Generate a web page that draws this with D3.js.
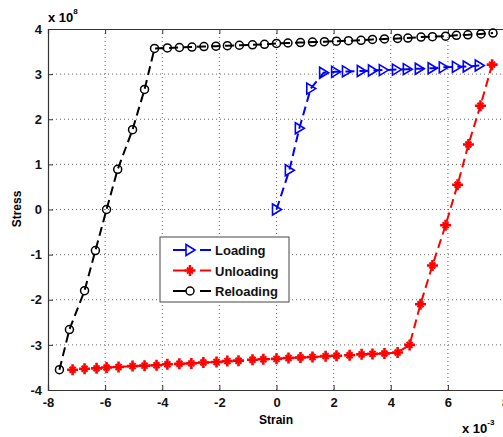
<!DOCTYPE html>
<html><head><meta charset="utf-8">
<script src="https://cdn.jsdelivr.net/npm/d3@7"></script>
<style>body{margin:0;background:#fff}svg{display:block}</style>
</head><body>
<svg id="c" width="503" height="437"></svg>
<script>
const xTicks = [-8,-6,-4,-2,0,2,4,6,8];
const yTicks = [-4,-3,-2,-1,0,1,2,3,4];

const loadX = [0, 0.45, 0.8, 1.2, 1.65, 2.07, 2.45, 2.97, 3.36, 3.74, 4.2, 4.58, 5.0, 5.45, 5.84, 6.3, 6.68, 7.1];
const loadY = [0, 0.87, 1.8, 2.68, 3.03, 3.05, 3.06, 3.07, 3.08, 3.09, 3.10, 3.11, 3.12, 3.13, 3.15, 3.16, 3.17, 3.19];

const unloadX = [7.55, 7.14, 6.72, 6.34, 5.92, 5.46, 5.04, 4.66, 4.24, 3.78, 3.36, 2.98, 2.56, 2.1, 1.72, 1.26, 0.84, 0.42, 0, -0.46, -0.84, -1.33, -1.72, -2.1, -2.56, -2.98, -3.4, -3.82, -4.2, -4.62, -5.04, -5.53, -5.95, -6.3, -6.72, -7.14];
const unloadY = [3.21, 2.3, 1.44, 0.55, -0.35, -1.24, -2.1, -3.0, -3.17, -3.19, -3.2, -3.21, -3.23, -3.24, -3.25, -3.27, -3.28, -3.29, -3.31, -3.32, -3.33, -3.35, -3.36, -3.38, -3.39, -3.41, -3.42, -3.43, -3.45, -3.46, -3.47, -3.49, -3.5, -3.52, -3.53, -3.55];

const reloadX = [-7.6, -7.25, -6.72, -6.34, -5.95, -5.56, -5.04, -4.62, -4.27, -3.82, -3.4, -2.96, -2.54, -2.12, -1.72, -1.3, -0.84, -0.42, 0, 0.4, 0.84, 1.26, 1.68, 2.1, 2.52, 2.96, 3.36, 3.78, 4.24, 4.6, 5.06, 5.46, 5.92, 6.3, 6.7, 7.16, 7.58];
const reloadY = [-3.55, -2.66, -1.8, -0.91, 0, 0.89, 1.77, 2.66, 3.57, 3.58, 3.59, 3.6, 3.61, 3.62, 3.63, 3.64, 3.65, 3.66, 3.68, 3.69, 3.70, 3.71, 3.72, 3.73, 3.74, 3.75, 3.77, 3.78, 3.79, 3.8, 3.82, 3.83, 3.84, 3.86, 3.87, 3.89, 3.91];

const seriesNames = ["Loading", "Unloading", "Reloading"];

const svg = d3.select("#c");
const L = 48, R = 505, T = 29, B = 390;
const x = d3.scaleLinear().domain([-8, 8]).range([L, R]);
const y = d3.scaleLinear().domain([-4, 4]).range([B, T]);
const font = "'Liberation Sans', Arial, sans-serif";

// grid
const grid = svg.append("g").attr("stroke", "#666").attr("stroke-width", 1).attr("stroke-dasharray", "1,3");
xTicks.slice(1, -1).forEach(t => grid.append("line").attr("x1", x(t)).attr("x2", x(t)).attr("y1", T).attr("y2", B));
yTicks.slice(1, -1).forEach(t => grid.append("line").attr("y1", y(t)).attr("y2", y(t)).attr("x1", L).attr("x2", R));

// axes
const ax = svg.append("g").attr("transform", `translate(0,${B})`)
  .call(d3.axisBottom(x).tickValues(xTicks).tickSize(-5).tickPadding(8).tickFormat(d3.format("d")));
const ay = svg.append("g").attr("transform", `translate(${L},0)`)
  .call(d3.axisLeft(y).tickValues(yTicks).tickSize(-5).tickPadding(6).tickFormat(d3.format("d")));
const axT = svg.append("g").attr("transform", `translate(0,${T})`)
  .call(d3.axisTop(x).tickValues(xTicks).tickSize(-5).tickFormat(""));
[ax, ay, axT].forEach(g => {
  g.selectAll("path").attr("stroke", "#333").attr("stroke-width", 1.2);
  g.selectAll("line").attr("stroke", "#333");
  g.selectAll("text").attr("font-family", font).attr("font-weight", "bold").attr("font-size", 13).attr("fill", "#111");
});
ax.selectAll("text").text(d => d < 0 ? "-" + Math.abs(d) : d);
ay.selectAll("text").text(d => d < 0 ? "-" + Math.abs(d) : d);

// axis labels
svg.append("text").attr("x", 276).attr("y", 424).attr("text-anchor", "middle")
  .attr("font-family", font).attr("font-weight", "bold").attr("font-size", 12).text("Strain");
svg.append("text").attr("transform", "translate(21,209) rotate(-90)").attr("text-anchor", "middle")
  .attr("font-family", font).attr("font-weight", "bold").attr("font-size", 12).text("Stress");
// exponent labels
const e1 = svg.append("text").attr("x", 48).attr("y", 22).attr("font-family", font).attr("font-weight", "bold").attr("font-size", 13);
e1.append("tspan").text("x 10");
e1.append("tspan").attr("font-size", 8).attr("dy", -8).text("8");
const e2 = svg.append("text").attr("x", 462).attr("y", 433).attr("font-family", font).attr("font-weight", "bold").attr("font-size", 13);
e2.append("tspan").text("x 10");
e2.append("tspan").attr("font-size", 8).attr("dy", -8).text("-3");

const line = d3.line().x(d => x(d[0])).y(d => y(d[1]));
const zip = (a, b) => a.map((v, i) => [v, b[i]]);

const triPath = "M-4,-5.5L5,0L-4,5.5Z";
function drawMarker(g, kind, color) {
  if (kind === 0) {
    g.append("path").attr("d", triPath).attr("fill", "none").attr("stroke", color).attr("stroke-width", 1.6);
  } else if (kind === 1) {
    g.append("path").attr("d", "M-5.5,0H5.5M0,-5.5V5.5").attr("stroke", color).attr("stroke-width", 2.6);
    g.append("path").attr("d", "M-3,-3L3,3M-3,3L3,-3").attr("stroke", color).attr("stroke-width", 2);
  } else {
    g.append("circle").attr("r", 4).attr("fill", "none").attr("stroke", color).attr("stroke-width", 1.5);
  }
}

const series = [
  {data: zip(loadX, loadY), color: "#0000ff"},
  {data: zip(unloadX, unloadY), color: "#ff0000"},
  {data: zip(reloadX, reloadY), color: "#000000"}
];
const plot = svg.append("g");
series.forEach((s, k) => {
  plot.append("path").attr("d", line(s.data)).attr("fill", "none").attr("stroke", s.color)
    .attr("stroke-width", 2).attr("stroke-dasharray", "9,5");
  s.data.forEach(d => {
    const g = plot.append("g").attr("transform", `translate(${x(d[0])},${y(d[1])})`);
    drawMarker(g, k, s.color);
  });
});

// legend
const lg = svg.append("g");
lg.append("rect").attr("x", 160).attr("y", 237).attr("width", 129).attr("height", 65)
  .attr("fill", "#fff").attr("stroke", "#444").attr("stroke-width", 1);
seriesNames.forEach((n, k) => {
  const yy = 250 + k * 20.5;
  lg.append("line").attr("x1", 173).attr("x2", 186).attr("y1", yy).attr("y2", yy).attr("stroke", series[k].color).attr("stroke-width", 2);
  lg.append("line").attr("x1", 200).attr("x2", 211).attr("y1", yy).attr("y2", yy).attr("stroke", series[k].color).attr("stroke-width", 2);
  const g = lg.append("g").attr("transform", `translate(190,${yy})`);
  drawMarker(g, k, series[k].color);
  lg.append("text").attr("x", 215).attr("y", yy + 5).attr("font-family", font).attr("font-weight", "bold")
    .attr("font-size", 13).attr("fill", "#111").text(n);
});
</script>
</body></html>
